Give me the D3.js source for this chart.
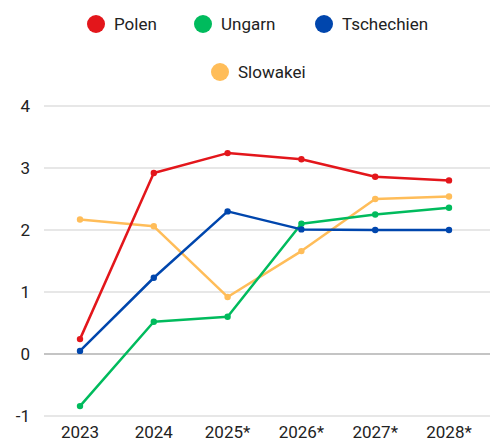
<!DOCTYPE html>
<html>
<head>
<meta charset="utf-8">
<script src="https://cdn.jsdelivr.net/npm/d3@7"></script>
<style>
  body { margin: 0; background: #fff; }
  text { font-family: Roboto, sans-serif; fill: #222; }
</style>
</head>
<body>
<script>
const width = 491;
const height = 442;

// Data
const years = ["2023", "2024", "2025*", "2026*", "2027*", "2028*"];
const polen      = [0.24, 2.92, 3.24, 3.14, 2.86, 2.80];
const ungarn     = [-0.84, 0.52, 0.60, 2.10, 2.25, 2.36];
const tschechien = [0.05, 1.23, 2.30, 2.01, 2.00, 2.00];
const slowakei   = [2.17, 2.06, 0.92, 1.66, 2.50, 2.54];
const yTicks = [-1, 0, 1, 2, 3, 4];

const series = [
  { name: "Polen", color: "#e3161b", values: polen },
  { name: "Ungarn", color: "#00bb5d", values: ungarn },
  { name: "Tschechien", color: "#0046ad", values: tschechien },
  { name: "Slowakei", color: "#ffbd59", values: slowakei }
];

const svg = d3.select("body")
  .append("svg")
  .attr("width", width)
  .attr("height", height);

// Scales
const x = d3.scalePoint()
  .domain(years)
  .range([80, 449]);

const y = d3.scaleLinear()
  .domain([-1, 4])
  .range([416, 106]);

// Grid
svg.append("g")
  .selectAll("line")
  .data(yTicks)
  .enter()
  .append("line")
  .attr("x1", 44)
  .attr("x2", 490)
  .attr("y1", d => y(d))
  .attr("y2", d => y(d))
  .attr("stroke", d => d === 0 ? "#8a8a8a" : "#d0d0d0")
  .attr("stroke-width", 1.2);

// Y labels
svg.append("g")
  .selectAll("text")
  .data(yTicks)
  .enter()
  .append("text")
  .attr("x", 30)
  .attr("y", d => y(d))
  .attr("dy", "0.35em")
  .attr("text-anchor", "end")
  .attr("font-size", 17)
  .text(d => d);

// X labels
svg.append("g")
  .selectAll("text")
  .data(years)
  .enter()
  .append("text")
  .attr("x", d => x(d))
  .attr("y", 438)
  .attr("text-anchor", "middle")
  .attr("font-size", 17)
  .text(d => d);

// Lines
const line = d3.line()
  .x((d, i) => x(years[i]))
  .y(d => y(d));

// draw order: orange under the others
const drawOrder = [series[3], series[1], series[2], series[0]];

drawOrder.forEach(s => {
  const g = svg.append("g");
  g.append("path")
    .datum(s.values)
    .attr("d", line)
    .attr("fill", "none")
    .attr("stroke", s.color)
    .attr("stroke-width", 2.5)
    .attr("stroke-linejoin", "round");
  g.selectAll("circle")
    .data(s.values)
    .enter()
    .append("circle")
    .attr("cx", (d, i) => x(years[i]))
    .attr("cy", d => y(d))
    .attr("r", 3.2)
    .attr("fill", s.color);
});

// Legend
const legendPos = [
  { cx: 96, cy: 24 },
  { cx: 203, cy: 24 },
  { cx: 324, cy: 24 },
  { cx: 220, cy: 72 }
];

const legend = svg.append("g")
  .selectAll("g")
  .data(series)
  .enter()
  .append("g")
  .attr("transform", (d, i) => `translate(${legendPos[i].cx},${legendPos[i].cy})`);

legend.append("circle")
  .attr("r", 9)
  .attr("fill", d => d.color);

legend.append("text")
  .attr("x", 18)
  .attr("dy", "0.35em")
  .attr("font-size", 17)
  .text(d => d.name);
</script>
</body>
</html>
